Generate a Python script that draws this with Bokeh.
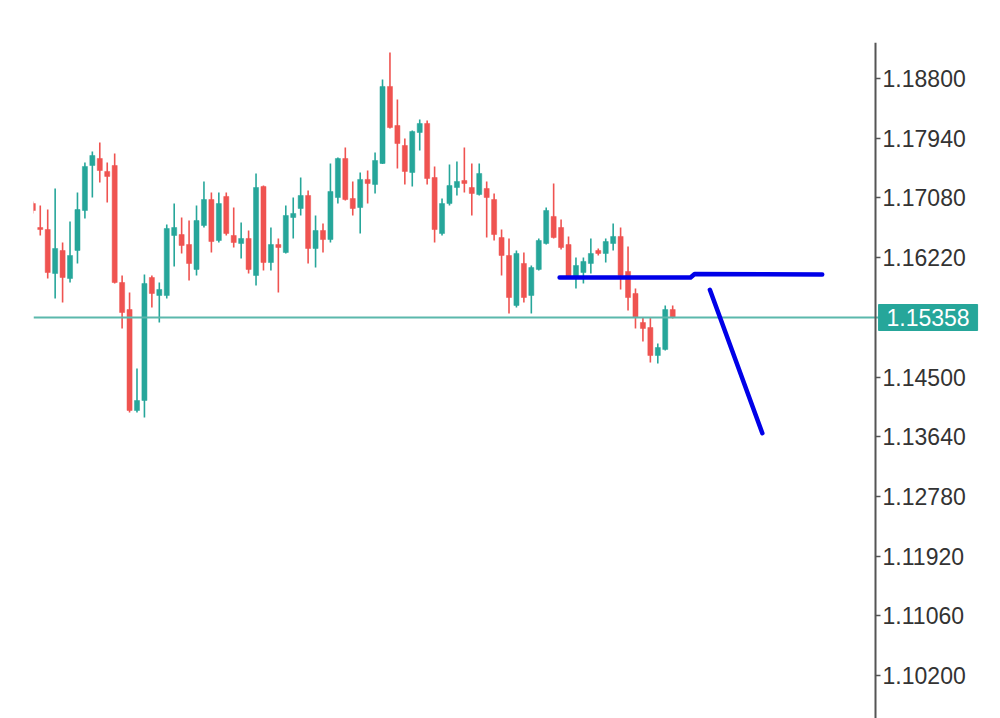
from bokeh.plotting import figure
from bokeh.models import Label, FixedTicker, PrintfTickFormatter, ColumnDataSource, Range1d
from bokeh.embed import file_html
from bokeh.resources import INLINE

# OHLC values (one candle per bar)
opens = [1.16999, 1.16654, 1.16625, 1.15992, 1.16323, 1.15920, 1.16323, 1.16899, 1.17547, 1.17648,
         1.17461, 1.17547, 1.15862, 1.15473, 1.14019, 1.14163, 1.15934, 1.15675, 1.15675, 1.16539,
         1.16553, 1.16409, 1.16050, 1.16683, 1.17057, 1.16467, 1.17101, 1.16539, 1.16424, 1.16496,
         1.15963, 1.17245, 1.16150, 1.16409, 1.16294, 1.16798, 1.16928, 1.17115, 1.16352, 1.16611,
         1.16481, 1.17086, 1.17648, 1.17072, 1.16942, 1.17346, 1.17274, 1.17576, 1.18685, 1.18123,
         1.17835, 1.17446, 1.18022, 1.18152, 1.17374, 1.16568, 1.16999, 1.17230, 1.17331, 1.17230,
         1.17129, 1.17216, 1.17057, 1.16510, 1.16251, 1.15531, 1.16136, 1.15675, 1.16050, 1.16424,
         1.16813, 1.16654, 1.16409, 1.15949, 1.16006, 1.16136, 1.16323, 1.16280, 1.16424, 1.16525,
         1.16021, 1.15704, 1.15286, 1.15214, 1.14811, 1.14898, 1.15473]
closes = [1.16899, 1.16625, 1.16006, 1.16352, 1.15934, 1.16251, 1.16913, 1.17533, 1.17691, 1.17475,
          1.17389, 1.15862, 1.15430, 1.14019, 1.14163, 1.15848, 1.15704, 1.15762, 1.16640, 1.16654,
          1.16395, 1.16136, 1.16755, 1.17057, 1.16452, 1.16999, 1.16568, 1.16438, 1.16496, 1.16050,
          1.17230, 1.16150, 1.16409, 1.16366, 1.16827, 1.16856, 1.17115, 1.16352, 1.16611, 1.16481,
          1.17173, 1.17648, 1.17057, 1.16928, 1.17346, 1.17288, 1.17619, 1.18685, 1.18094, 1.17864,
          1.17461, 1.18037, 1.18152, 1.17360, 1.16625, 1.16999, 1.17259, 1.17317, 1.17288, 1.17144,
          1.17432, 1.17086, 1.16553, 1.16251, 1.15646, 1.16280, 1.15646, 1.16078, 1.16467, 1.16899,
          1.16510, 1.16366, 1.15949, 1.16107, 1.16165, 1.16280, 1.16280, 1.16452, 1.16525, 1.15963,
          1.15646, 1.15358, 1.15200, 1.14811, 1.14926, 1.15473, 1.15358]
highs = [1.17029, 1.16971, 1.16913, 1.17216, 1.16438, 1.16741, 1.17158, 1.17590, 1.17749, 1.17878,
         1.17590, 1.17720, 1.15963, 1.15718, 1.14624, 1.15977, 1.15963, 1.15862, 1.16697, 1.16999,
         1.16798, 1.16755, 1.16971, 1.17317, 1.17158, 1.17158, 1.17158, 1.16942, 1.16726, 1.16611,
         1.17432, 1.17259, 1.16654, 1.16496, 1.16971, 1.17086, 1.17374, 1.17187, 1.16827, 1.16712,
         1.17576, 1.17662, 1.17806, 1.17317, 1.17446, 1.17475, 1.17734, 1.18785, 1.19174, 1.18497,
         1.17936, 1.18051, 1.18209, 1.18195, 1.17533, 1.17072, 1.17561, 1.17605, 1.17806, 1.17576,
         1.17576, 1.17317, 1.17144, 1.16625, 1.16496, 1.16323, 1.16294, 1.16107, 1.16496, 1.16942,
         1.17288, 1.16769, 1.16525, 1.16222, 1.16222, 1.16496, 1.16352, 1.16496, 1.16712, 1.16654,
         1.16381, 1.15776, 1.15358, 1.15358, 1.14984, 1.15531, 1.15531]
lows = [1.16856, 1.16539, 1.15920, 1.15632, 1.15574, 1.15862, 1.16136, 1.16784, 1.17086, 1.17302,
        1.17014, 1.15848, 1.15200, 1.13990, 1.13990, 1.13918, 1.15502, 1.15286, 1.15632, 1.16093,
        1.16280, 1.15891, 1.15963, 1.16654, 1.16294, 1.16438, 1.16539, 1.16366, 1.16208, 1.15992,
        1.15819, 1.16035, 1.16035, 1.15718, 1.16280, 1.16496, 1.16827, 1.16136, 1.16078, 1.16294,
        1.16438, 1.16999, 1.17043, 1.16827, 1.16568, 1.16999, 1.17144, 1.17570, 1.18080, 1.17504,
        1.17274, 1.17245, 1.17763, 1.17274, 1.16438, 1.16539, 1.16971, 1.17115, 1.17158, 1.16827,
        1.17115, 1.16510, 1.16467, 1.15963, 1.15416, 1.15502, 1.15574, 1.15416, 1.16035, 1.16410,
        1.16496, 1.16337, 1.15934, 1.15776, 1.15848, 1.15992, 1.16251, 1.16150, 1.16323, 1.15761,
        1.15459, 1.15200, 1.15013, 1.14710, 1.14696, 1.14883, 1.15344]

current_price = 1.15358
price_ticks = [1.18800, 1.17940, 1.17080, 1.16220, 1.14500, 1.13640, 1.12780, 1.11920, 1.11060, 1.10200]

# hand-drawn blue annotation strokes (bar index, price)
stroke1_x = [70.8, 88.4, 88.95, 106.1]
stroke1_y = [1.15934, 1.15934, 1.15985, 1.15977]
stroke2_x = [91.0, 98.05]
stroke2_y = [1.15757, 1.13692]

GREEN = "#26a69a"
RED = "#ef5350"

FRAME_W, FRAME_H = 967, 676
X_START, X_END = 0.09, 130.06
Y_START, Y_END = 1.09584, 1.19318
AXIS_X = 113.27    # bar position where the price scale sits

ux = (X_END - X_START) / FRAME_W   # data units per pixel (x)
uy = (Y_END - Y_START) / FRAME_H   # data units per pixel (y)

idx = list(range(len(opens)))
colors = [GREEN if c >= o else RED for o, c in zip(opens, closes)]
src = ColumnDataSource(dict(
    x=idx,
    top=[max(o, c) for o, c in zip(opens, closes)],
    bottom=[min(o, c) for o, c in zip(opens, closes)],
    high=highs, low=lows, color=colors,
))

p = figure(frame_width=FRAME_W, frame_height=FRAME_H, output_backend="svg", toolbar_location=None,
           x_axis_location=None, y_axis_location="right",
           x_range=Range1d(X_START, X_END), y_range=Range1d(Y_START, Y_END),
           min_border_left=33, min_border_top=42, min_border_bottom=0, min_border_right=0)
p.outline_line_color = None
p.xgrid.visible = False
p.ygrid.visible = False
p.background_fill_color = "white"

p.segment(x0="x", x1="x", y0="low", y1="high", color="color", line_width=1.6, source=src)
p.vbar(x="x", top="top", bottom="bottom", width=0.68, fill_color="color", line_color="color",
       line_width=0.5, source=src)

p.line(x=[X_START, AXIS_X + 3 * ux], y=[current_price, current_price],
       line_color="#5bb8ac", line_width=2)

p.line(x=stroke1_x, y=stroke1_y, line_color="#0000e8", line_width=4.5,
       line_cap="round", line_join="round")
p.line(x=stroke2_x, y=stroke2_y, line_color="#0000e8", line_width=4.5,
       line_cap="round", line_join="round")

# current price tag on the scale
p.quad(left=[AXIS_X + 3 * ux], right=[AXIS_X + 102 * ux],
       bottom=[current_price - 13 * uy], top=[current_price + 13 * uy],
       fill_color=GREEN, line_color=GREEN)

ax = p.yaxis[0]
ax.fixed_location = AXIS_X
ax.ticker = FixedTicker(ticks=price_ticks)
ax.formatter = PrintfTickFormatter(format="%.5f")
ax.axis_line_color = "#555555"
ax.axis_line_width = 2
ax.major_tick_line_color = "#555555"
ax.major_tick_line_width = 1.5
ax.major_tick_out = 5
ax.major_tick_in = 0
ax.minor_tick_line_color = None
ax.major_label_standoff = 2
ax.major_label_text_font = "Liberation Sans"
ax.major_label_text_font_size = "23px"
ax.major_label_text_color = "#333333"

lbl = Label(x=AXIS_X + 52.5 * ux, y=current_price, text="1.15358",
            text_baseline="middle", text_align="center",
            text_font="Liberation Sans", text_font_size="23px", text_color="white")
p.add_layout(lbl)

open("out.html", "w").write(file_html(p, INLINE))
